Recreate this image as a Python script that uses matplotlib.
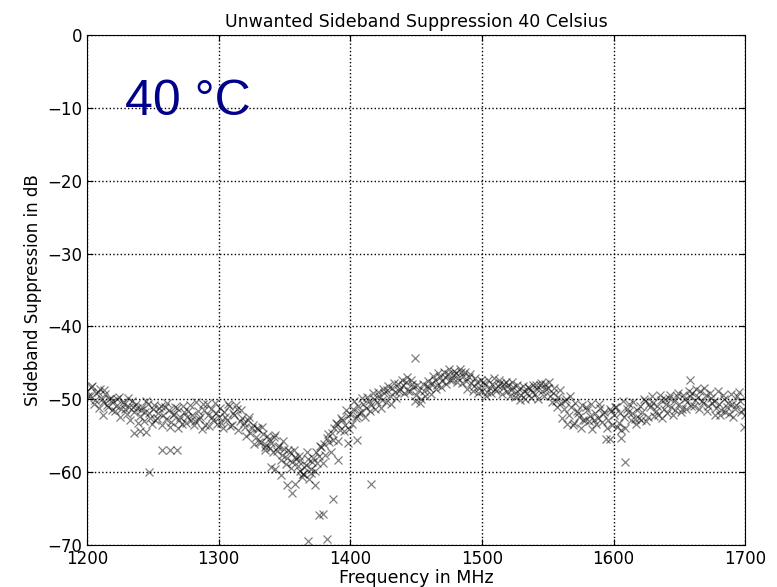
import numpy as np
import matplotlib.pyplot as plt

# sweep at 2 MHz steps, 1200..1700 MHz
freq = np.arange(1200, 1701, 2)
ssb = [
    -48.8, -49.5, -48.2, -50.1, -49.0, -48.6, -50.4, -49.3, -51.0, -49.8,
    -50.2, -50.9, -49.7, -51.4, -50.6, -52.0, -51.1, -50.3, -51.8, -51.2,
    -52.3, -51.0, -51.7, -50.6, -52.6, -51.4, -52.9, -51.9, -50.9, -52.2,
    -52.7, -51.5, -53.1, -52.0, -51.2, -52.8, -53.4, -51.8, -52.4, -50.8,
    -52.1, -53.0, -51.6, -52.5, -50.7, -53.6, -52.2, -51.3, -52.9, -51.9,
    -52.4, -53.2, -51.7, -52.8, -50.9, -53.5, -52.1, -51.4, -53.0, -52.6,
    -53.8, -52.9, -54.6, -53.5, -55.2, -54.1, -55.8, -54.7, -56.3, -55.4,
    -56.0, -55.2, -57.1, -56.4, -57.6, -56.8, -58.0, -57.3, -58.6, -57.9,
    -59.1, -58.4, -60.2, -59.0, -58.2, -59.6, -58.0, -57.2, -57.8, -56.6,
    -56.1, -55.3, -55.9, -54.6, -54.0, -53.4, -54.2, -52.8, -53.5, -52.3,
    -52.0, -51.4, -52.6, -50.9, -51.7, -50.6, -51.2, -50.2, -50.8, -49.9,
    -50.4, -49.6, -50.1, -49.2, -48.7, -49.5, -48.4, -49.0, -47.9, -48.6,
    -48.1, -47.6, -48.8, -47.3, -48.3, -49.4, -48.7, -49.9, -48.9, -48.2,
    -48.5, -47.8, -47.3, -48.0, -46.9, -47.5, -47.0, -46.6, -47.4, -46.7,
    -46.4, -47.1, -46.2, -46.8, -47.5, -46.9, -47.8, -48.2, -47.6, -48.5,
    -48.9, -48.1, -49.0, -48.4, -47.9, -48.6, -48.2, -47.7, -48.5, -47.6,
    -48.0, -48.7, -48.3, -49.1, -48.6, -49.4, -48.8, -49.2, -48.5, -49.0,
    -49.3, -48.6, -48.1, -48.9, -47.9, -48.4, -49.6, -49.1, -50.2, -49.7,
    -50.5, -51.3, -49.9, -52.1, -51.0, -53.2, -51.6, -52.4, -50.8, -52.9,
    -51.5, -52.3, -54.1, -51.9, -52.6, -51.2, -52.0, -55.4, -52.8, -51.6,
    -52.2, -51.0, -53.3, -54.2, -52.5, -51.3, -50.6, -51.9, -52.7, -51.5,
    -50.9, -51.8, -50.3, -52.4, -51.1, -50.5, -51.6, -52.2, -50.1, -51.3,
    -50.6, -49.8, -51.0, -50.3, -49.5, -50.7, -51.4, -49.9, -50.4, -49.6,
    -49.2, -50.1, -49.7, -48.9, -50.5, -49.4, -50.9, -49.8, -50.3, -51.2,
    -50.6, -51.5, -50.0, -51.1, -52.0, -50.7, -51.3, -49.6, -50.2, -51.4,
    -52.1,
]

# second pass, odd MHz 1201..1699
freq_odd = np.arange(1201, 1700, 2)
ssb_odd = [
    -49.6, -48.3, -50.6, -49.1, -51.2, -49.9, -48.7, -50.8, -50.0, -51.5,
    -51.6, -49.9, -52.4, -50.4, -51.3, -49.8, -52.8, -51.0, -50.6, -53.2,
    -51.5, -53.0, -50.3, -51.9, -53.4, -50.8, -52.6, -51.2, -53.6, -51.0,
    -50.5, -53.8, -52.2, -51.0, -54.0, -52.5, -50.9, -53.3, -51.6, -52.9,
    -53.5, -50.4, -52.7, -54.1, -51.5, -50.6, -53.7, -52.4, -50.5, -53.4,
    -51.2, -54.0, -52.5, -50.6, -53.7, -51.9, -50.8, -54.2, -51.5, -53.3,
    -55.0, -52.4, -53.9, -56.1, -54.0, -55.9, -53.8, -57.0, -55.1, -56.7,
    -57.3, -54.9, -56.6, -58.3, -55.7, -58.9, -57.0, -59.5, -56.9, -58.2,
    -57.8, -60.7, -59.3, -57.2, -60.9, -58.6, -59.9, -58.7, -56.4, -58.8,
    -57.6, -54.8, -57.3, -55.6, -53.2, -55.7, -52.6, -54.4, -51.5, -54.1,
    -53.4, -50.3, -52.3, -51.9, -49.8, -52.4, -49.7, -51.6, -49.1, -51.3,
    -49.0, -51.2, -48.6, -50.4, -48.2, -50.6, -47.8, -49.8, -48.9, -47.4,
    -49.2, -46.9, -48.9, -47.9, -50.2, -48.0, -50.5, -47.9, -49.5, -47.5,
    -49.3, -46.8, -48.6, -46.4, -48.3, -46.2, -47.9, -45.9, -47.3, -46.1,
    -47.6, -45.9, -47.7, -46.3, -48.6, -46.5, -48.9, -47.1, -49.2, -47.3,
    -47.6, -49.6, -47.3, -49.2, -47.1, -48.9, -47.4, -49.3, -47.9, -48.8,
    -49.5, -47.6, -49.7, -48.0, -50.1, -48.2, -49.9, -48.3, -49.8, -48.1,
    -48.0, -50.0, -47.7, -49.6, -48.6, -47.6, -50.4, -48.4, -51.0, -48.7,
    -52.6, -50.2, -53.4, -49.6, -53.6, -50.5, -51.9, -54.0, -52.9, -51.1,
    -53.0, -50.7, -52.8, -53.4, -50.6, -53.1, -51.7, -53.9, -51.4, -53.6,
    -51.0, -53.8, -51.9, -50.3, -54.0, -51.8, -52.8, -50.4, -53.4, -52.6,
    -52.8, -49.9, -53.0, -50.6, -49.5, -52.3, -50.9, -49.4, -52.6, -50.0,
    -51.9, -49.4, -52.2, -51.5, -49.1, -51.8, -49.4, -51.3, -48.8, -50.9,
    -50.9, -48.6, -51.3, -50.3, -48.4, -51.6, -49.2, -50.5, -52.1, -48.9,
    -52.2, -49.4, -51.8, -50.5, -49.3, -52.4, -50.8, -49.0, -51.8, -53.8,
]

# scattered points off the main trace
extra_freq = [1212, 1236, 1240, 1245, 1247, 1257, 1263, 1268,
              1335, 1340, 1343, 1347, 1352, 1356, 1358, 1362, 1364, 1368,
              1370, 1373, 1376, 1379, 1382, 1387, 1391, 1398, 1405, 1416,
              1449, 1597, 1606, 1609, 1658]
extra_ssb = [-52.2, -54.6, -54.4, -54.5, -60.0, -57.0, -56.9, -57.0,
             -56.5, -59.3, -59.6, -60.4, -61.8, -62.9, -61.6, -59.8, -60.2, -69.4,
             -60.1, -61.7, -65.9, -65.7, -69.2, -63.7, -58.3, -56.0, -55.6, -61.6,
             -44.4, -55.5, -55.3, -58.6, -47.3]

fig = plt.figure(figsize=(7.77, 5.87), dpi=100)
ax = fig.add_axes([0.112, 0.0716, 0.847, 0.8688])

style = dict(linestyle='none', marker='x', color='black', alpha=0.5,
             markersize=5.5, markeredgewidth=0.9)
ax.plot(freq, ssb, **style)
ax.plot(freq_odd, ssb_odd, **style)
ax.plot(extra_freq, extra_ssb, **style)

ax.text(1229, -11, '40 \u00b0C', fontsize=36, color='#00008b',
        family=['Liberation Sans', 'DejaVu Sans'])

ax.set_xlim(1200, 1700)
ax.set_ylim(-70, 0)
ax.set_xticks([1200, 1300, 1400, 1500, 1600, 1700])
ax.set_yticks(np.arange(-70, 1, 10))
ax.grid(True, color='black', linestyle=':', linewidth=1)
ax.tick_params(labelsize=12, direction='in', length=4, top=True, right=True)
ax.set_xlabel('Frequency in MHz', fontsize=12.5, labelpad=1)
ax.set_ylabel('Sideband Suppression in dB', fontsize=12)
ax.set_title('Unwanted Sideband Suppression 40 Celsius', fontsize=12.5)

fig.savefig('out.png', dpi=100)
